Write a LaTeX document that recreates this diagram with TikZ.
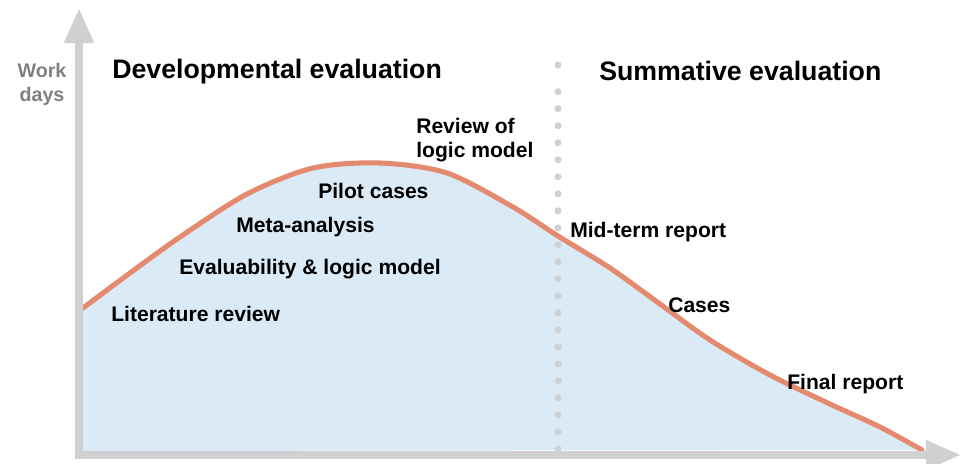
\documentclass[tikz,border=0pt]{standalone}
\usepackage{fontspec}
\setmainfont{Liberation Sans}
\usetikzlibrary{arrows.meta, positioning}

\definecolor{axisgray}{HTML}{D0D0D2}
\definecolor{curvesalmon}{HTML}{E48A6E}
\definecolor{areablue}{HTML}{DAEAF7}
\definecolor{labelgray}{HTML}{808080}

\begin{document}
\begin{tikzpicture}[
    x=0.025cm, y=-0.025cm,
    axis/.style={draw=axisgray, line width=5.7pt, line join=miter,
        {Triangle[length=25pt, width=20pt]}-{Triangle[length=25pt, width=20pt]}},
    divider/.style={draw=axisgray, line width=5pt, line cap=round, dash pattern=on 0pt off 12.1pt},
    effort/.style={draw=curvesalmon, line width=3.6pt, line cap=round},
    phase/.style={anchor=base west, inner sep=0pt, font=\fontsize{19}{22}\selectfont\bfseries},
    task/.style={anchor=base west, inner sep=0pt, align=left, font=\fontsize{15}{17}\selectfont\bfseries},
    axislabel/.style={anchor=base, inner sep=0pt, align=center, text=labelgray, font=\fontsize{14}{16.4}\selectfont\bfseries}
]
\useasboundingbox (0,0) rectangle (962,463);

\fill[areablue] plot[smooth] coordinates {(83,308) (130,273) (180,237) (247,194) (313,168) (380,163) (447,173) (513,207) (558,236) (610,268) (660,304) (710,340) (770,375) (830,404) (880,427) (922,450)}
    -- (83,451) -- cycle;

\coordinate (dtop) at (558,65);
\coordinate (dbot) at (558,449);
\draw[divider] (dbot) -- (558,75);
\fill[axisgray] (dtop) circle (3.5);

\draw[effort] plot[smooth] coordinates {(83,308) (130,273) (180,237) (247,194) (313,168) (380,163) (447,173) (513,207) (558,236) (610,268) (660,304) (710,340) (770,375) (830,404) (880,427) (922,450)};

\coordinate (ytip) at (79,8);
\coordinate (origin) at (79,455);
\coordinate (xtip) at (961,455);
\draw[axis] (ytip) -- (origin) -- (xtip);

\node[axislabel] (ylab) at (42,101) {Work\\days};

\node[phase] (dev) at (112,78) {Developmental evaluation};
\node[phase] (sum) at (599,80) {Summative evaluation};

\node[task] (lit) at (111,321) {Literature review};
\node[task] (eval) at (179,274) {Evaluability \& logic model};
\node[task] (meta) at (236,232) {Meta-analysis};
\node[task] (pilot) at (318,198) {Pilot cases};
\node[task] (review) at (416,157) {Review of\\logic model};
\node[task] (mid) at (570,237) {Mid-term report};
\node[task] (cases) at (668,312) {Cases};
\node[task] (final) at (787,389) {Final report};

\end{tikzpicture}
\end{document}
